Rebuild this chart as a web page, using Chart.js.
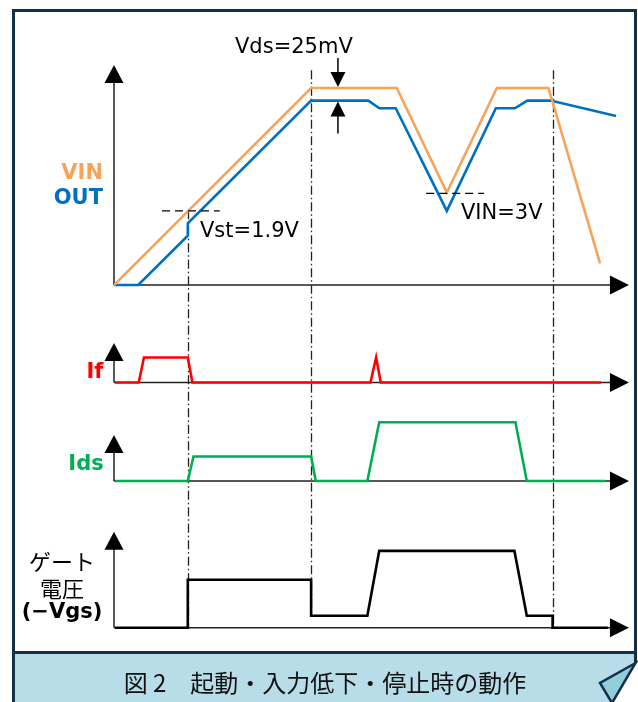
<!DOCTYPE html>
<html>
<head>
<meta charset="utf-8">
<script src="https://cdn.jsdelivr.net/npm/chart.js@4.4.0/dist/chart.umd.min.js"></script>
<style>
body { margin: 0; background: #fff; }
#wrap { position: relative; width: 638px; height: 702px; overflow: hidden; }
#wrap canvas { position: absolute; left: 0; top: 0; }
.lbl { position: absolute; white-space: nowrap; font-family: "DejaVu Sans", Verdana, sans-serif; font-size: 21px; line-height: 24px; transform: translateY(-50%); color: #000; }
.b { font-weight: bold; }
.c { transform: translate(-50%, -50%); text-align: center; }
.jp { font-family: "Noto Sans CJK JP", sans-serif; font-size: 22px; }
#caption { position: absolute; left: 14px; width: 622px; top: 682px; transform: translateY(-50%); text-align: center; font-family: "Noto Sans CJK JP", sans-serif; font-size: 24px; line-height: 28px; color: #111; }
</style>
</head>
<body>
<div id="wrap">
  <canvas id="timing" width="638" height="702"></canvas>
  <div class="lbl" style="left:235px;top:46px">Vds=25mV</div>
  <div class="lbl" style="left:200px;top:230px">Vst=1.9V</div>
  <div class="lbl" style="left:461px;top:212px">VIN=3V</div>
  <div class="lbl b" style="right:535px;top:172px;color:#f7a35a">VIN</div>
  <div class="lbl b" style="right:535px;top:197px;color:#0070c0">OUT</div>
  <div class="lbl b c" style="left:95px;top:371px;color:#ff0000">If</div>
  <div class="lbl b c" style="left:86px;top:463px;color:#00b050">Ids</div>
  <div class="lbl jp c" style="left:62px;top:560px">ゲート</div>
  <div class="lbl jp c" style="left:62px;top:587px">電圧</div>
  <div class="lbl b c" style="left:62px;top:611px">(−Vgs)</div>
  <div id="caption">図 2　起動・入力低下・停止時の動作</div>
</div>
<script>
// time axis is in arbitrary units 0..100
const vinT = [0, 38.2, 54.8, 64.5, 74.2, 84.2, 94.2]
const vinV = [0, 10, 10, 4.69, 10, 10, 1.1]
const outT = [0, 4.7, 14.3, 14.3, 38.2, 49.3, 51.4, 54.6, 64.5, 74.0, 77.7, 80.1, 84.6, 97.3]
const outV = [0, 0, 2.5, 3.13, 9.36, 9.36, 8.97, 8.97, 3.76, 8.97, 8.97, 9.36, 9.36, 8.58]

const ifT = [0.2, 4.8, 5.8, 14.3, 15.2, 49.7, 50.8, 51.7, 94.4]
const ifV = [0, 0, 1, 1, 0, 0, 1, 0, 0]

const idsT = [0.2, 14.3, 15.4, 38.2, 39.1, 49.1, 51.4, 77.8, 80.0, 95.2]
const idsV = [0, 0, 1, 1, 0, 0, 2.4, 2.4, 0, 0]

const gateT = [0.2, 14.3, 14.3, 38.2, 38.2, 49.1, 51.4, 77.6, 80.0, 85.0, 85.0, 95.7]
const gateV = [0, 0, 4, 4, 1, 1, 6.4, 6.4, 1, 1, 0, 0]

// dash-dot event markers: time, top (VIN/OUT units), bottom (gate units)
const markerT = [14.3, 38.2, 85.0]
const markerTop = [3.8, 10.9, 10.9]
const markerBottom = [0, 1, 0]

// dashed threshold lines
const vstX = [9.3, 20.5]
const vstLevel = 3.76
const vin3X = [60.5, 71.7]
const vin3Level = 4.65

const vdsT = 43.4

const xAxisEnd = 99.8

const AREA_TOP = 40
const AREA_BOTTOM = 645

// panel layout: baseline pixel, px per unit, axis top value
const panels = [
    { id: 'yV', base: 285, k: 19.7, top: 11.17 },
    { id: 'yIf', base: 382.5, k: 25, top: 1.58 },
    { id: 'yIds', base: 481, k: 24.5, top: 1.88 },
    { id: 'yG', base: 627.7, k: 12, top: 8 },
]

function toPoints(xs, ys) {
    return xs.map((x, i) => ({ x: x, y: ys[i] }))
}

function line(label, xs, ys, color, axis, dash) {
    return {
        label: label,
        data: toPoints(xs, ys),
        borderColor: color,
        borderWidth: dash ? 1.2 : 2.6,
        borderDash: dash || [],
        borderJoinStyle: 'miter',
        pointRadius: 0,
        tension: 0,
        fill: false,
        yAxisID: axis,
    }
}

function arrowHead(ctx, x, y, dir, len, w) {
    ctx.beginPath()
    ctx.moveTo(x, y)
    if (dir == 'up') {
        ctx.lineTo(x - w / 2, y + len)
        ctx.lineTo(x + w / 2, y + len)
    } else if (dir == 'down') {
        ctx.lineTo(x - w / 2, y - len)
        ctx.lineTo(x + w / 2, y - len)
    } else {
        ctx.lineTo(x - len, y - w / 2)
        ctx.lineTo(x - len, y + w / 2)
    }
    ctx.closePath()
    ctx.fill()
}

const framePlugin = {
    id: 'frame',
    beforeDraw(chart) {
        const ctx = chart.ctx
        const navy = '#12304a'
        ctx.save()
        ctx.fillStyle = '#fff'
        ctx.fillRect(0, 0, chart.width, chart.height)
        // caption band
        ctx.fillStyle = '#b7dee8'
        ctx.beginPath()
        ctx.moveTo(13.5, 652.5)
        ctx.lineTo(635.5, 652.5)
        ctx.lineTo(635.5, 663)
        ctx.lineTo(612, 702)
        ctx.lineTo(13.5, 702)
        ctx.closePath()
        ctx.fill()
        ctx.strokeStyle = navy
        ctx.lineWidth = 3
        ctx.beginPath()
        ctx.moveTo(13.5, 704)
        ctx.lineTo(13.5, 10.5)
        ctx.lineTo(635.5, 10.5)
        ctx.lineTo(635.5, 663)
        ctx.stroke()
        ctx.beginPath()
        ctx.moveTo(13.5, 652.5)
        ctx.lineTo(635.5, 652.5)
        ctx.stroke()
        // folded corner
        ctx.fillStyle = '#92cddc'
        ctx.lineWidth = 2.5
        ctx.beginPath()
        ctx.moveTo(635.5, 663)
        ctx.lineTo(600, 683)
        ctx.lineTo(612, 703)
        ctx.closePath()
        ctx.fill()
        ctx.stroke()
        ctx.restore()
    },
    beforeDatasetsDraw(chart) {
        const ctx = chart.ctx
        const xs = chart.scales.x
        ctx.save()
        // axes with arrows
        ctx.strokeStyle = '#222'
        ctx.fillStyle = '#000'
        ctx.lineWidth = 1.5
        for (const p of panels) {
            const ys = chart.scales[p.id]
            const x0 = xs.getPixelForValue(0)
            const y0 = ys.getPixelForValue(0)
            const yTop = ys.getPixelForValue(p.top)
            const xEnd = xs.getPixelForValue(xAxisEnd)
            ctx.beginPath()
            ctx.moveTo(x0, y0)
            ctx.lineTo(x0, yTop + 10)
            ctx.moveTo(x0, y0)
            ctx.lineTo(xEnd - 10, y0)
            ctx.stroke()
            arrowHead(ctx, x0, yTop, 'up', 18, 19)
            arrowHead(ctx, xEnd, y0, 'right', 19, 19)
        }
        // dash-dot markers
        ctx.strokeStyle = '#222'
        ctx.lineWidth = 1.3
        ctx.setLineDash([9, 3, 1.5, 3])
        markerT.forEach((t, i) => {
            const x = Math.round(xs.getPixelForValue(t)) + 0.5
            ctx.beginPath()
            ctx.moveTo(x, chart.scales.yV.getPixelForValue(markerTop[i]))
            ctx.lineTo(x, chart.scales.yG.getPixelForValue(markerBottom[i]))
            ctx.stroke()
        })
        ctx.setLineDash([])
        ctx.restore()
    },
    afterDatasetsDraw(chart) {
        // Vds difference arrows
        const ctx = chart.ctx
        const x = chart.scales.x.getPixelForValue(vdsT)
        const yv = chart.scales.yV.getPixelForValue(vinV[1]) - 1
        const yo = chart.scales.yV.getPixelForValue(outV[4]) + 1
        ctx.save()
        ctx.strokeStyle = '#000'
        ctx.fillStyle = '#000'
        ctx.lineWidth = 1.5
        ctx.beginPath()
        ctx.moveTo(x, yv - 29)
        ctx.lineTo(x, yv - 10)
        ctx.moveTo(x, yo + 10)
        ctx.lineTo(x, yo + 32)
        ctx.stroke()
        arrowHead(ctx, x, yv, 'down', 15, 15)
        arrowHead(ctx, x, yo, 'up', 15, 15)
        ctx.restore()
    }
}

const yScales = {}
for (const p of panels) {
    yScales[p.id] = {
        type: 'linear',
        display: false,
        min: -(AREA_BOTTOM - p.base) / p.k,
        max: (p.base - AREA_TOP) / p.k,
    }
}

window.addEventListener("DOMContentLoaded", () => {
    const ctx = document.querySelector("#timing")
    new Chart(ctx, {
        type: 'line',
        data: {
            datasets: [
                line('Vst', vstX, [vstLevel, vstLevel], '#000', 'yV', [8, 5]),
                line('VIN 3V', vin3X, [vin3Level, vin3Level], '#000', 'yV', [8, 5]),
                line('VIN', vinT, vinV, '#f7a35a', 'yV'),
                line('OUT', outT, outV, '#0070c0', 'yV'),
                line('If', ifT, ifV, '#ff0000', 'yIf'),
                line('Ids', idsT, idsV, '#00b050', 'yIds'),
                line('Gate', gateT, gateV, '#000', 'yG'),
            ]
        },
        options: {
            responsive: false,
            animation: false,
            layout: { padding: { left: 114, right: 8, top: AREA_TOP, bottom: 702 - AREA_BOTTOM } },
            plugins: {
                legend: { display: false },
                tooltip: { enabled: false },
            },
            scales: Object.assign({
                x: { type: 'linear', min: 0, max: 100, display: false },
            }, yScales),
        },
        plugins: [framePlugin],
    })
})
</script>
</body>
</html>
